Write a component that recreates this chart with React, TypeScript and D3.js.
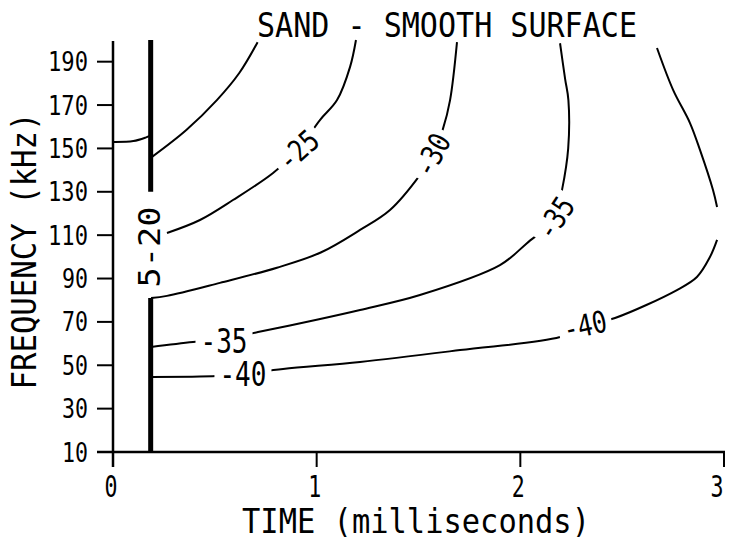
import React from 'react'
import * as d3 from 'd3'

const W = 729
const H = 540

// axis ticks
const yTicks = [10, 30, 50, 70, 90, 110, 130, 150, 170, 190]
const xTicks = [0, 1, 2, 3]

// contour lines: [time (ms), frequency (kHz)]
const contourTop: [number, number][] = [[0, 153], [0.1, 153.4], [0.16, 155], [0.185, 156]]
const contour20: [number, number][] = [[0.19, 146], [0.36, 158.5], [0.51, 172.3], [0.62, 184.8], [0.71, 199]]
const contour25: [number, number][] = [
  [0.265, 111], [0.427, 117], [0.589, 126.2], [0.786, 138.7], [0.908, 149.3],
  [1.016, 163.1], [1.1, 172.3], [1.164, 187.6], [1.193, 200]
]
const contour30: [number, number][] = [
  [0.187, 81], [0.265, 82], [0.525, 88], [0.805, 95], [1.02, 102], [1.213, 112.4],
  [1.36, 121.6], [1.507, 137.7], [1.57, 147], [1.62, 159], [1.655, 172.3], [1.689, 199]
]
const contour35: [number, number][] = [
  [0.187, 58.4], [0.393, 60.7], [0.545, 62], [0.712, 65.3], [1.0, 71], [1.213, 75.5],
  [1.507, 82.4], [1.9, 96.2], [2.031, 106.2], [2.17, 118], [2.205, 131], [2.235, 150],
  [2.236, 172.3], [2.22, 182], [2.195, 198.5]
]
const contour40Low: [number, number][] = [
  [0.187, 44.6], [0.511, 45], [0.638, 46], [0.835, 48.3], [1.213, 51.5], [1.704, 57],
  [2.195, 63], [2.317, 68.1], [2.465, 71.8], [2.769, 84.7], [2.867, 90.7], [2.931, 99.9], [2.966, 107.8]
]
const contour40High: [number, number][] = [
  [2.966, 123], [2.946, 130.8], [2.882, 149.3], [2.833, 161.7], [2.75, 177], [2.671, 196.3]
]
const contours = [contourTop, contour20, contour25, contour30, contour35, contour40Low, contour40High]

// heavy band where the contours pile up
const bandTime = 0.185
const bandSegments: [number, number][] = [[130, 200], [10, 81]]

// contour labels
const labels = [
  { text: '-25', t: 0.908, f: 149.3, angle: -42 },
  { text: '-30', t: 1.566, f: 147, angle: -62 },
  { text: '-35', t: 2.17, f: 118, angle: -57 },
  { text: '-40', t: 2.317, f: 68.6, angle: -12 },
  { text: '-35', t: 0.545, f: 61.2, angle: 0 },
  { text: '-40', t: 0.638, f: 46, angle: 0 },
  { text: '5-20', t: 0.177, f: 104.5, angle: -90 }
]

const FONT = '"DejaVu Sans Mono", monospace'

export default function App() {
  const x = d3.scaleLinear().domain([0, 3]).range([113, 724])
  const y = d3.scaleLinear().domain([10, 200]).range([452, 40])
  const line = d3.line<[number, number]>()
    .x(d => x(d[0]))
    .y(d => y(d[1]))
    .curve(d3.curveCatmullRom)

  return (
    <svg width={W} height={H} style={{ position: 'absolute', left: 0, top: 0, background: '#fff' }}>
      {/* title */}
      <text x={447} y={37} fontFamily={FONT} fontSize={33} textAnchor="middle"
        textLength={380} lengthAdjust="spacingAndGlyphs">SAND - SMOOTH SURFACE</text>

      {/* contours */}
      {contours.map((c, i) => (
        <path key={i} d={line(c) || ''} fill="none" stroke="#000" strokeWidth={2} />
      ))}

      {/* heavy band */}
      {bandSegments.map((s, i) => (
        <line key={i} x1={x(bandTime)} x2={x(bandTime)} y1={y(s[0])} y2={y(s[1])}
          stroke="#000" strokeWidth={5} />
      ))}

      {/* labels: white box first to break the line */}
      {labels.map((l, i) => {
        const size = l.angle === 0 ? 34 : 30
        const len = l.angle === 0 ? 47 : l.text.length > 3 ? 81 : 44
        const cap = size * 0.73
        return (
          <rect key={'r' + i} x={-len / 2 - 5} y={-cap / 2 - 1} width={len + 10} height={cap + 2}
            fill="#fff" transform={`translate(${x(l.t)},${y(l.f)}) rotate(${l.angle})`} />
        )
      })}
      {labels.map((l, i) => {
        const size = l.angle === 0 ? 34 : 30
        const len = l.angle === 0 ? 47 : l.text.length > 3 ? 81 : 44
        const cap = size * 0.73
        return (
          <text key={'t' + i} transform={`translate(${x(l.t)},${y(l.f)}) rotate(${l.angle})`}
            x={0} y={cap / 2} fontFamily={FONT} fontSize={size} textAnchor="middle"
            textLength={len} lengthAdjust="spacingAndGlyphs">{l.text}</text>
        )
      })}

      {/* axes */}
      <line x1={x(0)} x2={x(0)} y1={y(200) + 1} y2={467} stroke="#000" strokeWidth={2.5} />
      <line x1={97} x2={x(3) + 1} y1={y(10)} y2={y(10)} stroke="#000" strokeWidth={2.5} />
      {yTicks.map(v => (
        <g key={v}>
          <line x1={97} x2={x(0)} y1={y(v)} y2={y(v)} stroke="#000" strokeWidth={2} />
          <text x={88} y={y(v) + 9.5} fontFamily={FONT} fontSize={26} textAnchor="end"
            textLength={v >= 100 ? 40 : 26} lengthAdjust="spacingAndGlyphs">{v}</text>
        </g>
      ))}
      {xTicks.map(v => (
        <g key={v}>
          <line x1={x(v)} x2={x(v)} y1={y(10)} y2={467} stroke="#000" strokeWidth={2} />
          <text x={v === 3 ? x(v) - 7 : x(v) - 2} y={497} fontFamily={FONT} fontSize={30}
            textAnchor="middle" textLength={13} lengthAdjust="spacingAndGlyphs">{v}</text>
        </g>
      ))}

      {/* axis titles */}
      <text x={416} y={533} fontFamily={FONT} fontSize={34} textAnchor="middle"
        textLength={348} lengthAdjust="spacingAndGlyphs">TIME (milliseconds)</text>
      <text transform="translate(36,251) rotate(-90)" fontFamily={FONT} fontSize={33}
        textAnchor="middle" textLength={277} lengthAdjust="spacingAndGlyphs">FREQUENCY (kHz)</text>
    </svg>
  )
}
